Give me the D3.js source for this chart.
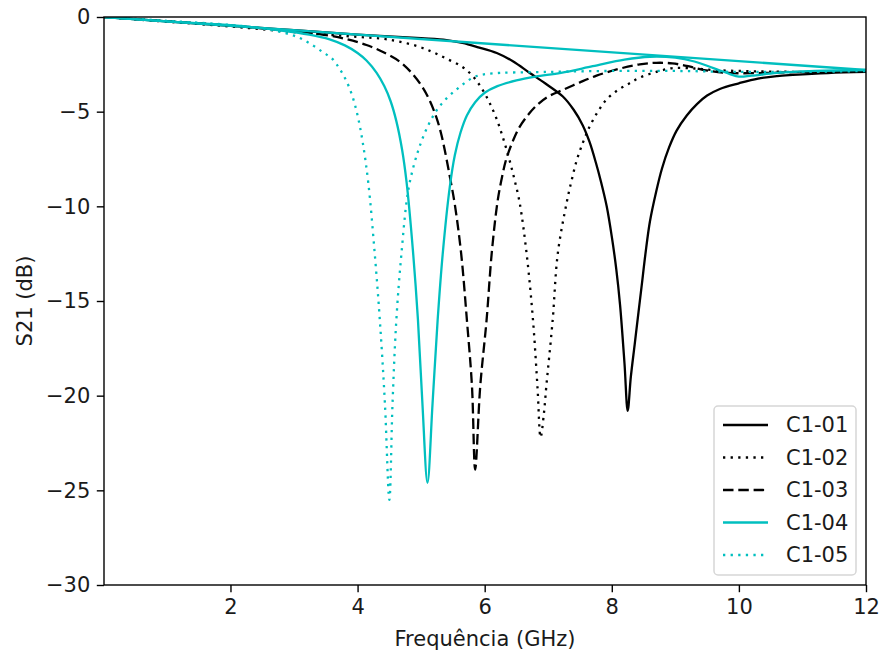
<!DOCTYPE html>
<html>
<head>
<meta charset="utf-8">
<script src="https://cdn.jsdelivr.net/npm/d3@7"></script>
<style>
  html, body { margin: 0; padding: 0; background: #fff; }
  svg { display: block; font-family: "DejaVu Sans", sans-serif; }
</style>
</head>
<body>
<svg id="chart" width="880" height="655"></svg>
<script>
// Measured transmission S21 (dB) versus frequency (GHz) for five resonators.
const freq01 = [0.01, 1, 2, 3, 4, 5, 5.4, 5.65, 5.9, 6.19, 6.45, 6.71, 6.95, 7.23, 7.4, 7.54, 7.65, 7.75, 7.83, 7.92, 8.0, 8.07, 8.13, 8.2, 8.25, 8.3, 8.36, 8.42, 8.47, 8.53, 8.6, 8.7, 8.79, 8.9, 9.02, 9.18, 9.34, 9.5, 9.7, 10.0, 10.3, 10.6, 10.85, 11.4, 12];
const s21_01 = [0, -0.23, -0.47, -0.7, -0.93, -1.12, -1.22, -1.37, -1.6, -1.9, -2.35, -2.96, -3.5, -4.2, -4.9, -5.7, -6.6, -7.7, -8.7, -10.0, -11.6, -13.3, -15.2, -18.3, -20.8, -19.0, -17.3, -15.6, -14.2, -12.5, -10.8, -9.2, -8.0, -6.9, -6.0, -5.2, -4.6, -4.15, -3.8, -3.5, -3.25, -3.12, -3.06, -2.96, -2.9];

const freq02 = [0.01, 1, 2, 3, 4, 4.4, 4.66, 4.95, 5.18, 5.4, 5.65, 5.82, 5.97, 6.08, 6.19, 6.29, 6.39, 6.47, 6.55, 6.66, 6.76, 6.83, 6.88, 6.93, 6.97, 7.07, 7.15, 7.29, 7.37, 7.45, 7.55, 7.65, 7.78, 7.92, 8.1, 8.28, 8.44, 8.7, 8.96, 9.3, 9.6, 10, 11, 12];
const s21_02 = [0, -0.25, -0.5, -0.8, -1.05, -1.15, -1.3, -1.55, -1.85, -2.2, -2.64, -3.15, -3.86, -4.55, -5.4, -6.4, -7.55, -8.6, -9.8, -12.5, -16, -19.5, -22.2, -21.0, -19.5, -16, -12.5, -9.8, -8.6, -7.55, -6.6, -5.8, -5.0, -4.35, -3.85, -3.5, -3.2, -2.9, -2.7, -2.72, -2.8, -2.85, -2.9, -2.9];

const freq03 = [0.01, 1, 2, 2.5, 3, 3.4, 3.8, 4.14, 4.4, 4.66, 4.85, 5.02, 5.14, 5.24, 5.31, 5.37, 5.45, 5.53, 5.63, 5.72, 5.8, 5.85, 5.93, 6.03, 6.11, 6.2, 6.27, 6.34, 6.45, 6.55, 6.7, 6.84, 7.0, 7.23, 7.5, 7.76, 8.1, 8.44, 8.7, 8.95, 9.2, 9.45, 9.8, 10.5, 11, 12];
const s21_03 = [0, -0.22, -0.45, -0.6, -0.75, -0.9, -1.15, -1.48, -1.85, -2.35, -2.95, -3.7, -4.45, -5.3, -6.1, -7.0, -8.4, -9.9, -12.5, -16, -19.5, -23.9, -19.5, -16, -12.5, -9.8, -8.5, -7.5, -6.5, -5.8, -5.1, -4.6, -4.2, -3.85, -3.45, -3.1, -2.75, -2.5, -2.42, -2.45, -2.6, -2.8, -2.95, -2.95, -2.9, -2.9];

const freq04 = [0.01, 1, 2, 2.77, 3.24, 3.56, 3.8, 4.0, 4.14, 4.3, 4.42, 4.52, 4.61, 4.7, 4.77, 4.87, 4.95, 5.02, 5.1, 5.18, 5.26, 5.34, 5.45, 5.53, 5.62, 5.72, 5.85, 6.0, 6.2, 6.5, 6.8, 7.2, 7.7, 8.2, 8.6, 9.0, 9.3, 9.6, 9.85, 10.0, 10.2, 10.6, 11.2, 12];
const s21_04 = [0, -0.23, -0.43, -0.7, -0.93, -1.18, -1.5, -1.9, -2.3, -2.95, -3.65, -4.45, -5.5, -7.0, -8.7, -12.3, -16, -20.4, -24.6, -20.4, -16, -12.5, -9.0, -7.3, -6.1, -5.2, -4.5, -4.0, -3.65, -3.35, -3.15, -2.95, -2.6, -2.25, -2.1, -2.15, -2.35, -2.7, -3.0, -3.15, -3.1, -2.95, -2.85, -2.8];

const freq05 = [0.01, 1, 2, 2.5, 2.8, 3.05, 3.25, 3.45, 3.6, 3.72, 3.82, 3.92, 4.0, 4.08, 4.17, 4.27, 4.35, 4.43, 4.5, 4.55, 4.61, 4.69, 4.79, 4.88, 4.98, 5.1, 5.25, 5.4, 5.55, 5.7, 5.85, 6.05, 7, 8, 9, 10, 11, 12];
const s21_05 = [0, -0.2, -0.42, -0.6, -0.8, -1.05, -1.4, -1.85, -2.2, -2.75, -3.35, -4.2, -5.2, -6.6, -8.8, -12.5, -16, -20.4, -25.5, -20.4, -16, -12.5, -9.3, -7.9, -6.8, -5.8, -4.9, -4.3, -3.85, -3.45, -3.15, -3.0, -2.9, -2.85, -2.85, -2.9, -2.9, -2.85];

const seriesNames = ["C1-01", "C1-02", "C1-03", "C1-04", "C1-05"];
const xTicks = [2, 4, 6, 8, 10, 12];
const yTicks = [0, -5, -10, -15, -20, -25, -30];

// Line styles per series (colour, dash pattern); the C1-04 sweep also returns to its start point.
const lw = 2.3;
const styles = {
  "C1-01": { color: "#000000", dash: null },
  "C1-02": { color: "#000000", dash: "2.3,5.3" },
  "C1-03": { color: "#000000", dash: "10.5,4.8" },
  "C1-04": { color: "#00bfbf", dash: null, retrace: true },
  "C1-05": { color: "#00bfbf", dash: "2.3,5.3" }
};

const series = [
  { name: "C1-01", f: freq01, v: s21_01 },
  { name: "C1-02", f: freq02, v: s21_02 },
  { name: "C1-03", f: freq03, v: s21_03 },
  { name: "C1-04", f: freq04, v: s21_04 },
  { name: "C1-05", f: freq05, v: s21_05 }
].map(s => ({ name: s.name, points: s.f.map((f, i) => [f, s.v[i]]) }));

const svg = d3.select("#chart");
const plot = { left: 104, right: 866, top: 17, bottom: 585 };
const fontSize = 21;

const x = d3.scaleLinear().domain([0.01, 12]).range([plot.left, plot.right]);
const y = d3.scaleLinear().domain([-30, 0]).range([plot.bottom, plot.top]);

svg.append("defs").append("clipPath").attr("id", "clip")
  .append("rect")
  .attr("x", plot.left).attr("y", plot.top)
  .attr("width", plot.right - plot.left).attr("height", plot.bottom - plot.top);

const line = d3.line().x(d => x(d[0])).y(d => y(d[1])).curve(d3.curveCatmullRom.alpha(0.5));
const straight = d3.line().x(d => x(d[0])).y(d => y(d[1]));

const gLines = svg.append("g").attr("clip-path", "url(#clip)");
series.forEach(s => {
  const st = styles[s.name];
  gLines.append("path")
    .attr("d", line(s.points))
    .attr("fill", "none")
    .attr("stroke", st.color)
    .attr("stroke-width", lw)
    .attr("stroke-dasharray", st.dash)
    .attr("stroke-linejoin", "round");
  if (st.retrace) {
    const pts = s.points;
    gLines.append("path")
      .attr("d", straight([pts[pts.length - 1], pts[0]]))
      .attr("fill", "none")
      .attr("stroke", st.color)
      .attr("stroke-width", lw);
  }
});

// Axes
const xAxis = d3.axisBottom(x).tickValues(xTicks).tickSize(7.2).tickPadding(6.5)
  .tickFormat(d => String(d));
const yAxis = d3.axisLeft(y).tickValues(yTicks).tickSize(7.2).tickPadding(6.5)
  .tickFormat(d => d < 0 ? "\u2212" + Math.abs(d) : String(d));

const gx = svg.append("g").attr("transform", `translate(0,${plot.bottom})`).call(xAxis);
const gy = svg.append("g").attr("transform", `translate(${plot.left},0)`).call(yAxis);
[gx, gy].forEach(g => {
  g.select(".domain").remove();
  g.selectAll(".tick line").attr("stroke", "#000").attr("stroke-width", 1.4);
  g.selectAll(".tick text").attr("fill", "#1a1a1a").style("font-size", fontSize + "px")
    .style("font-family", "DejaVu Sans, sans-serif");
});

// Frame
svg.append("rect")
  .attr("x", plot.left).attr("y", plot.top)
  .attr("width", plot.right - plot.left).attr("height", plot.bottom - plot.top)
  .attr("fill", "none").attr("stroke", "#000").attr("stroke-width", 1.4);

// Axis titles
svg.append("text")
  .attr("x", (plot.left + plot.right) / 2).attr("y", 646)
  .attr("text-anchor", "middle")
  .attr("fill", "#1a1a1a")
  .style("font-size", fontSize + "px")
  .text("Frequência (GHz)");

svg.append("text")
  .attr("transform", `translate(32,${(plot.top + plot.bottom) / 2}) rotate(-90)`)
  .attr("text-anchor", "middle")
  .attr("fill", "#1a1a1a")
  .style("font-size", fontSize + "px")
  .text("S21 (dB)");

// Legend
const legend = svg.append("g");
legend.append("rect")
  .attr("x", 714).attr("y", 406).attr("width", 142).attr("height", 169)
  .attr("rx", 4).attr("ry", 4)
  .attr("fill", "rgba(255,255,255,0.8)").attr("stroke", "#d6d6d6").attr("stroke-width", 1.5);

seriesNames.forEach((name, i) => {
  const st = styles[name];
  const cy = 425 + i * 32.5;
  legend.append("line")
    .attr("x1", 723).attr("x2", 768).attr("y1", cy).attr("y2", cy)
    .attr("stroke", st.color).attr("stroke-width", lw)
    .attr("stroke-dasharray", st.dash);
  legend.append("text")
    .attr("x", 786).attr("y", cy).attr("dy", "0.35em")
    .attr("fill", "#1a1a1a")
    .style("font-size", fontSize + "px")
    .text(name);
});
</script>
</body>
</html>
